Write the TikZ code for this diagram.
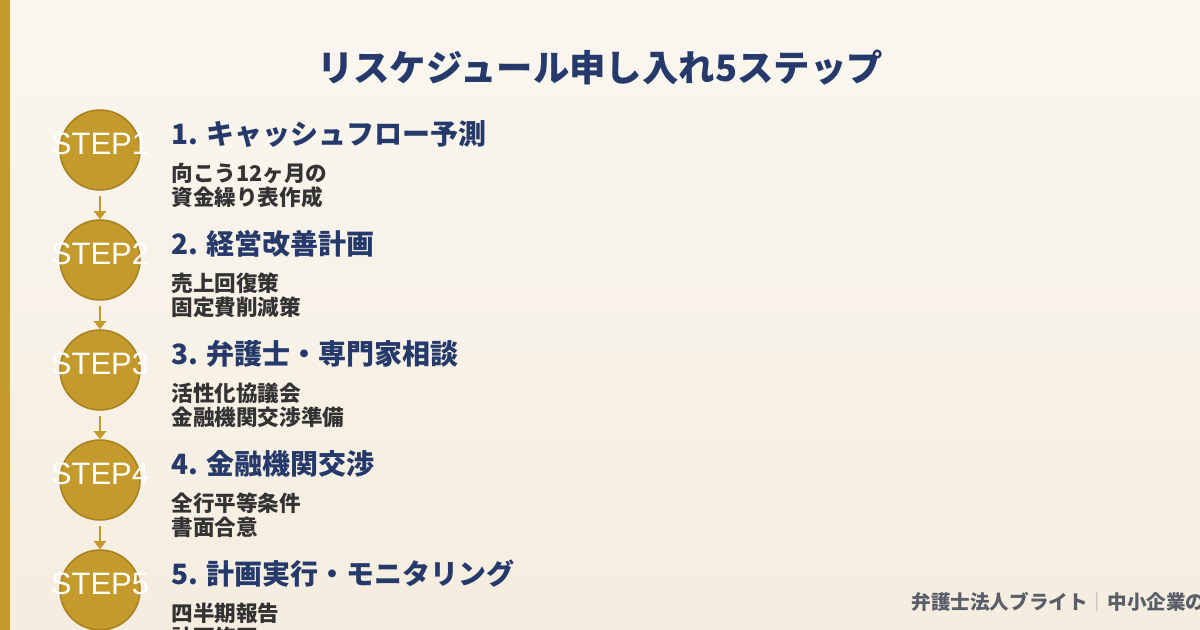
\documentclass[tikz,border=0pt]{standalone}
\usepackage{fontspec}
\setmainfont{Noto Sans CJK JP}
\newfontfamily\stepfont{Liberation Sans}
\usetikzlibrary{arrows.meta,positioning}
\definecolor{gold}{HTML}{C49A2C}
\definecolor{golddark}{HTML}{A8801E}
\definecolor{navy}{HTML}{253A6B}
\definecolor{ink}{HTML}{333333}
\definecolor{footgray}{HTML}{5A5E68}
\definecolor{bgtop}{HTML}{FAF7F0}
\definecolor{bgbottom}{HTML}{F5EDDF}
\begin{document}
\begin{tikzpicture}[x=0.5pt, y=-0.5pt,
    stepcircle/.style={circle, fill=gold, draw=golddark, line width=0.75pt, minimum size=40pt, inner sep=0pt},
    steptext/.style={text=white, font=\stepfont\fontsize{15.5}{15.5}\selectfont, inner sep=0pt},
    heading/.style={anchor=west, text=navy, font=\bfseries\fontsize{14}{14}\selectfont, inner sep=0pt},
    detail/.style={anchor=west, text=ink, align=left, font=\bfseries\fontsize{10.8}{12}\selectfont, inner sep=0pt},
    flow/.style={draw=gold, line width=1pt, -{Triangle[width=6pt,length=4pt]}, shorten <=2.5pt}]
  \useasboundingbox (0,0) rectangle (1200,630);
  \clip (0,0) rectangle (1200,630);
  \shade[top color=bgtop, bottom color=bgbottom] (0,0) rectangle (1200,630);
  \fill[gold] (0,0) rectangle (10,630);
  \node[text=navy, font=\bfseries\fontsize{18.2}{18.2}\selectfont] (title) at (600,68) {リスケジュール申し入れ5ステップ};
  % steps
  \foreach \i/\head/\lineA/\lineB in {
      1/{キャッシュフロー予測}/{向こう12ヶ月の}/{資金繰り表作成},
      2/{経営改善計画}/{売上回復策}/{固定費削減策},
      3/{弁護士・専門家相談}/{活性化協議会}/{金融機関交渉準備},
      4/{金融機関交渉}/{全行平等条件}/{書面合意},
      5/{計画実行・モニタリング}/{四半期報告}/{計画修正}} {
    \node[stepcircle] (c\i) at (100,{40+110*\i}) {};
    \node[steptext] (s\i) at (100,{34+110*\i}) {STEP\i};
    \node[heading] (h\i) at (171,{24+110*\i}) {\i. \head};
    \node[detail] (d\i) at (171,{75+110*\i}) {\lineA\\\lineB};
  }
  \foreach \i [evaluate=\i as \j using int(\i+1)] in {1,...,4}
    \draw[flow] (c\i.south) -- (c\j.north);
  \node[anchor=west, text=footgray, font=\bfseries\fontsize{9.8}{9.8}\selectfont, inner sep=0pt] (foot) at (911,602) {弁護士法人ブライト\textcolor{footgray!45}{｜}中小企業の};
\end{tikzpicture}
\end{document}
